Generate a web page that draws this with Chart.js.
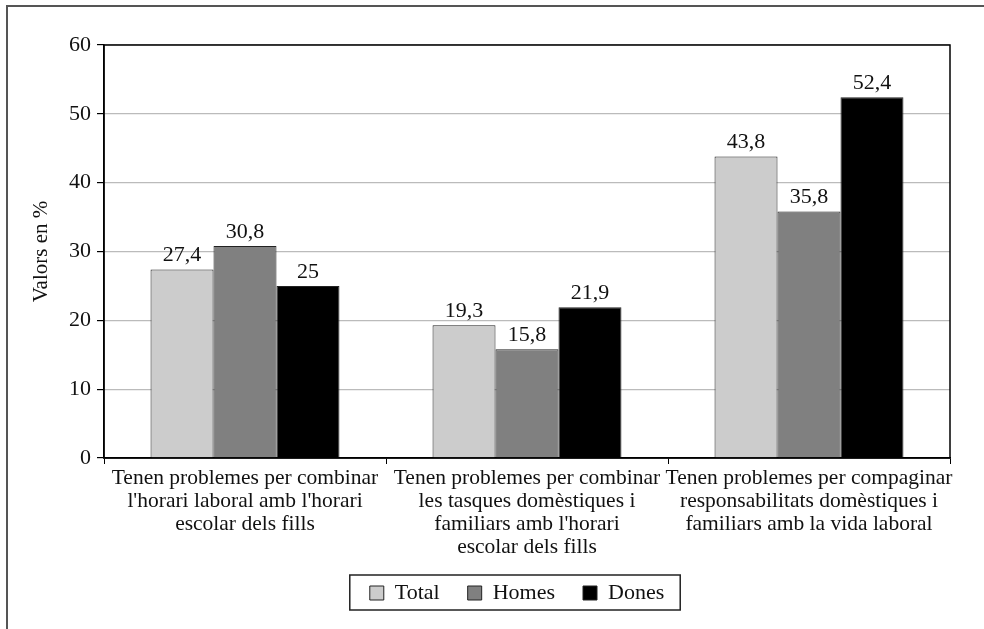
<!DOCTYPE html>
<html><head><meta charset="utf-8">
<script src="https://cdn.jsdelivr.net/npm/chart.js@4/dist/chart.umd.min.js"></script>
<style>html,body{margin:0;padding:0;background:#fff}#wrap{width:984px;height:629px;position:relative}</style>
</head><body><div id="wrap"><canvas id="c" width="984" height="629"></canvas></div>
<script>
const categories = [
  ["Tenen problemes per combinar", "l'horari laboral amb l'horari", "escolar dels fills"],
  ["Tenen problemes per combinar", "les tasques domèstiques i", "familiars amb l'horari", "escolar dels fills"],
  ["Tenen problemes per compaginar", "responsabilitats domèstiques i", "familiars amb la vida laboral"]
];
const totalValues = [27.4, 19.3, 43.8];
const homesValues = [30.8, 15.8, 35.8];
const donesValues = [25, 21.9, 52.4];
const yTicks = [0, 10, 20, 30, 40, 50, 60];
const seriesNames = ["Total", "Homes", "Dones"];

const FONT = "'Liberation Serif', 'DejaVu Serif', serif";

const frame = {
  id: 'frame',
  afterLayout(chart) {
    const dx = 37;
    chart.legend.left += dx;
    chart.legend.right += dx;
  },
  beforeDraw(chart) {
    const ctx = chart.ctx;
    ctx.save();
    ctx.strokeStyle = '#555';
    ctx.lineWidth = 2;
    ctx.beginPath();
    ctx.moveTo(7, 629); ctx.lineTo(7, 6); ctx.lineTo(984, 6);
    ctx.stroke();
    ctx.restore();
  },
  afterDraw(chart) {
    const ctx = chart.ctx, a = chart.chartArea;
    ctx.save();
    ctx.strokeStyle = '#000';
    ctx.lineWidth = 1.5;
    ctx.strokeRect(a.left, a.top, a.right - a.left, a.bottom - a.top);
    // data labels
    ctx.fillStyle = '#111';
    ctx.font = "22px " + FONT;
    ctx.textAlign = 'center';
    ctx.textBaseline = 'bottom';
    chart.data.datasets.forEach((ds, i) => {
      chart.getDatasetMeta(i).data.forEach((bar, j) => {
        ctx.fillText(String(ds.data[j]).replace('.', ','), bar.x, bar.y - 3);
      });
    });
    // legend border
    const boxes = chart.legend.legendHitBoxes;
    if (boxes && boxes.length) {
      const last = boxes[boxes.length - 1];
      const l = boxes[0].left - 20, r = last.left + last.width + 16;
      const t = boxes[0].top - 7, b = boxes[0].top + boxes[0].height + 6;
      ctx.strokeStyle = '#222';
      ctx.lineWidth = 1.5;
      ctx.strokeRect(l, t, r - l, b - t);
    }
    ctx.restore();
  }
};

new Chart(document.getElementById('c'), {
  type: 'bar',
  data: {
    labels: categories,
    datasets: [
      { label: seriesNames[0], data: totalValues, backgroundColor: '#cccccc', borderColor: '#222', borderWidth: 1 },
      { label: seriesNames[1], data: homesValues, backgroundColor: '#808080', borderColor: '#222', borderWidth: 1 },
      { label: seriesNames[2], data: donesValues, backgroundColor: '#000000', borderColor: '#222', borderWidth: 1 }
    ]
  },
  options: {
    responsive: false,
    animation: false,
    devicePixelRatio: 1,
    layout: { padding: { top: 45, right: 34, left: 10, bottom: 15 } },
    datasets: { bar: { categoryPercentage: 0.67, barPercentage: 1 } },
    plugins: {
      tooltip: { enabled: false },
      legend: {
        position: 'bottom',
        labels: {
          font: { family: FONT, size: 22 },
          color: '#111',
          boxWidth: 14, boxHeight: 14,
          padding: 28
        }
      }
    },
    scales: {
      x: {
        afterFit(s) { s.height = 96; },
        grid: { offset: true, drawOnChartArea: false, drawTicks: true, tickLength: 6, color: '#000', tickColor: '#000' },
        border: { color: '#000', width: 1.5 },
        ticks: { font: { family: FONT, size: 21.5, lineHeight: 1.07 }, color: '#111', maxRotation: 0, autoSkip: false, padding: 3 }
      },
      y: {
        min: 0, max: 60,
        afterFit(s) { s.width = 94; },
        afterBuildTicks(s) { s.ticks = yTicks.map(v => ({ value: v })); },
        grid: { color: '#bbbbbb', lineWidth: 1.2, tickColor: '#000', tickLength: 7 },
        border: { color: '#000', width: 1.5 },
        ticks: { font: { family: FONT, size: 22 }, color: '#111', padding: 6 },
        title: { display: true, text: 'Valors en %', font: { family: FONT, size: 21 }, color: '#111', padding: { top: 19, bottom: 0 } }
      }
    }
  },
  plugins: [frame]
});
</script></body></html>
